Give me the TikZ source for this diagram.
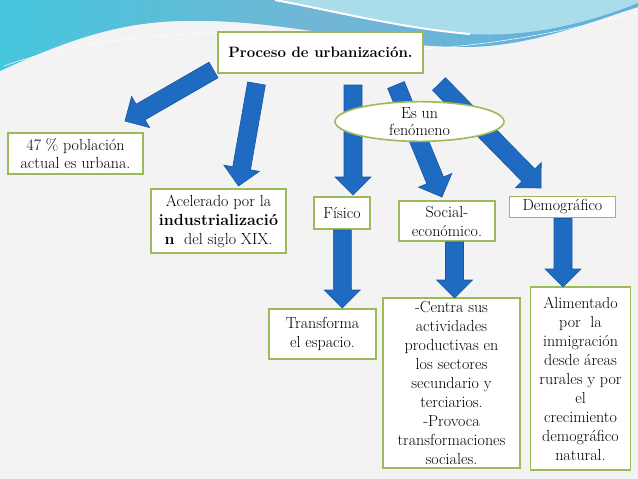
\documentclass[tikz,border=0pt]{standalone}
\usetikzlibrary{shapes.geometric,calc}
\definecolor{bgcol}{HTML}{F3F3F3}
\definecolor{boxgreen}{HTML}{9BBB59}
\definecolor{arrowblue}{HTML}{1F6BC2}
\definecolor{arrowedge}{HTML}{1755A3}
\definecolor{waveA}{HTML}{45C6DC}
\definecolor{waveB}{HTML}{72B6D6}
\definecolor{waveC}{HTML}{5FB2DD}
\definecolor{waveLight}{HTML}{AADCEA}
\newcommand{\blockarrow}[2]{%
 \path[blockarrow] let \p1=($(#2)-(#1)$), \n1={atan2(\y1,\x1)} in
 ($(#1)+(\n1+90:9pt)$) -- ($(#2)+(\n1+180:18pt)+(\n1+90:9pt)$) -- ($(#2)+(\n1+180:18pt)+(\n1+90:18pt)$) -- (#2) -- ($(#2)+(\n1+180:18pt)+(\n1-90:18pt)$) -- ($(#2)+(\n1+180:18pt)+(\n1-90:9pt)$) -- ($(#1)+(\n1-90:9pt)$) -- cycle;}
\tikzset{
 box/.style={draw=boxgreen, line width=1.6pt, fill=white, align=center, inner sep=0pt, font=\fontsize{16}{19}\selectfont},
 blockarrow/.style={fill=arrowblue, draw=arrowedge, line width=0.6pt, line join=miter},
}
\begin{document}
\begin{tikzpicture}[x=1pt,y=-1pt]
\useasboundingbox (0,0) rectangle (638,479);
\fill[bgcol] (0,0) rectangle (638,479);
% wave
\shade[left color=waveA, right color=waveC, middle color=waveB] (0,0) -- (638,0) -- (638,7) .. controls (590,22) and (530,47) .. (465,47) .. controls (400,47) and (340,34) .. (290,28) .. controls (240,21) and (180,17) .. (130,26) .. controls (80,35) and (35,55) .. (0,71) -- cycle;
\fill[waveLight] (275,0) .. controls (330,10) and (400,28) .. (470,34) .. controls (540,38) and (600,18) .. (638,3) -- (638,0) -- cycle;
\draw[white, line width=2pt] (275,0) .. controls (330,10) and (400,28) .. (470,34);
\draw[white, line width=0.5pt] (4,66) .. controls (80,38) and (200,28) .. (330,33);
\draw[white, line width=0.5pt] (420,49) .. controls (500,45) and (580,28) .. (638,12);

% nodes
\node[box, minimum width=205, minimum height=41, font=\fontsize{15}{18}\bfseries] (top) at (320.5,52.5) {Proceso de urbanización.};
\node[box, minimum width=135, minimum height=41, font=\fontsize{16}{18}\selectfont] (p47) at (75.5,153.5) {47 \% población\\actual es urbana.};
\node[box, minimum width=135, minimum height=64] (acel) at (218.5,221) {Acelerado por la\\\textbf{industrializació}\\\textbf{n}\ \ del siglo XIX.};
\node[box, minimum width=56, minimum height=32] (fis) at (342,213) {Físico};
\node[box, minimum width=96, minimum height=40] (soc) at (447,221) {Social-\\económico.};
\node[box, minimum width=106, minimum height=21] (dem) at (562.5,207) {Demográfico};
\node[box, minimum width=107, minimum height=50] (tra) at (322.5,334) {Transforma\\el espacio.};
\node[box, minimum width=137, minimum height=170] (cen) at (451.5,383) {-Centra sus\\actividades\\productivas en\\los sectores\\secundario y\\terciarios.\\-Provoca\\transformaciones\\sociales.};
\node[box, minimum width=100, minimum height=183] (ali) at (580.5,378.5) {Alimentado\\por\ \ la\\inmigración\\desde áreas\\rurales y por\\el\\crecimiento\\demográfico\\natural.};

% arrow ends
\coordinate (a1s) at (213.5,70);  \coordinate (a1e) at (125,121);
\coordinate (a2s) at (256.5,83.5); \coordinate (a2e) at (238.5,186);
\coordinate (a3s) at (353,85);    \coordinate (a3e) at (353,195);
\coordinate (a4s) at (396,85);    \coordinate (a4e) at (442,197);
\coordinate (a5s) at (439,84);    \coordinate (a5e) at (541,188);
\coordinate (a6s) at (342.3,230); \coordinate (a6e) at (342.3,308);
\coordinate (a7s) at (454.5,242); \coordinate (a7e) at (454.5,298);
\coordinate (a8s) at (563,218.5); \coordinate (a8e) at (563,287);
\blockarrow{a1s}{a1e}
\blockarrow{a2s}{a2e}
\blockarrow{a3s}{a3e}
\blockarrow{a4s}{a4e}
\blockarrow{a5s}{a5e}
\blockarrow{a6s}{a6e}
\blockarrow{a7s}{a7e}
\blockarrow{a8s}{a8e}

\node[ellipse, draw=boxgreen, line width=1.6pt, fill=white, minimum width=169, minimum height=38, inner sep=0pt, align=center, font=\fontsize{16}{17}\selectfont] (fen) at (419.5,121.5) {Es un\\fenómeno};
\end{tikzpicture}
\end{document}
